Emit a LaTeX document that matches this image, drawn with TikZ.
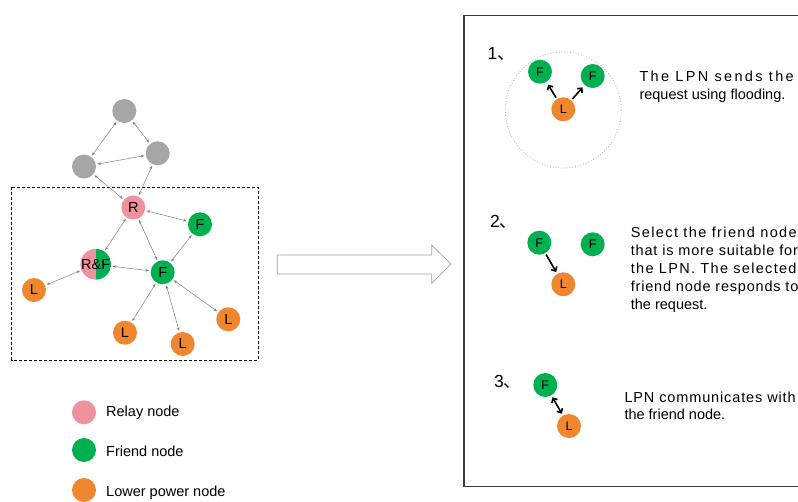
\documentclass[tikz,border=0pt]{standalone}
\usepackage{fontspec}
\setmainfont{Liberation Sans}
\newfontfamily\cjk{Noto Sans CJK SC}
\usetikzlibrary{arrows.meta}

\definecolor{relaypink}{HTML}{F0919E}
\definecolor{friendgreen}{HTML}{00B050}
\definecolor{lpnorange}{HTML}{F0862E}
\definecolor{idlegray}{HTML}{A6A6A6}
\definecolor{linkgray}{HTML}{808080}
\definecolor{hollowarrow}{HTML}{9C9CB4}
\definecolor{panelframe}{HTML}{3A3A3A}

\begin{document}
\begin{tikzpicture}[x=1pt,y=-1pt,
  dot/.style={circle,inner sep=0pt,minimum size=24pt,text=black,font=\fontsize{14.5}{14.5}\selectfont},
  relay/.style={dot,fill=relaypink},
  friend/.style={dot,fill=friendgreen},
  lpn/.style={dot,fill=lpnorange},
  idle/.style={dot,fill=idlegray},
  smalldot/.style={font=\fontsize{12.5}{12.5}\selectfont},
  link/.style={draw=linkgray,line width=0.5pt,
    {Stealth[length=3.5pt,width=2.8pt]}-{Stealth[length=3.5pt,width=2.8pt]},
    shorten <=1.5pt,shorten >=1.5pt},
  msg/.style={draw=black,line width=1.6pt,-{Straight Barb[length=3.4pt,width=6.5pt]}},
  msgboth/.style={draw=black,line width=1.6pt,{Straight Barb[length=3.4pt,width=6.5pt]}-{Straight Barb[length=3.4pt,width=6.5pt]}},
  txt/.style={anchor=base west,inner sep=0pt,font=\fontsize{14.5}{18}\selectfont},
  stepno/.style={anchor=base west,inner sep=0pt,font=\fontsize{17.5}{17.5}\selectfont},
]
\useasboundingbox (0,0) rectangle (798,501);
\clip (0,0) rectangle (798,501);

% ---------- network overview ----------
\draw[line width=1pt,dash pattern=on 3pt off 2pt] (11.7,187.3) rectangle (258.3,360);

\node[idle] (g1) at (124.3,111) {};
\node[idle] (g2) at (84,166.5) {};
\node[idle] (g3) at (157.7,153.3) {};

\node[relay] (R) at (133.3,207.5) {R};
\node[friend] (F1) at (200,224.3) {F};
\node[dot,minimum size=23pt,
  path picture={
    \fill[relaypink] (path picture bounding box.south west) rectangle (path picture bounding box.north);
    \fill[friendgreen] (path picture bounding box.south) rectangle (path picture bounding box.north east);
  }] (RF) at (95.7,264.3) {R\&F};
\node[friend] (F2) at (162.7,272.3) {F};
\node[lpn] (L1) at (34,290) {L};
\node[lpn] (L2) at (125,332.7) {L};
\node[lpn] (L3) at (182.7,344) {L};
\node[lpn] (L4) at (228.3,319.3) {L};

\draw[link] (g1) -- (g2);
\draw[link] (g1) -- (g3);
\draw[link] (g2) -- (g3);
\draw[link] (g2) -- (R);
\draw[link] (g3) -- (R);
\draw[link] (R) -- (F1);
\draw[link] (R) -- (RF);
\draw[link] (R) -- (F2);
\draw[link] (F1) -- (F2);
\draw[link] (RF) -- (F2);
\draw[link] (RF) -- (L1);
\draw[link] (F2) -- (L2);
\draw[link] (F2) -- (L3);
\draw[link] (F2) -- (L4);

% ---------- legend ----------
\node[relay] (kR) at (84,412.3) {};
\node[friend] (kF) at (84,450) {};
\node[lpn] (kL) at (84,490) {};
\node[txt] (kRt) at (106,416.7) {Relay node};
\node[txt] (kFt) at (106,456.3) {Friend node};
\node[txt] (kLt) at (106,496.3) {Lower power node};

% ---------- hollow arrow ----------
\draw[hollowarrow,line width=0.7pt,fill=white]
  (277.3,255) -- (431.7,255) -- (431.7,245) -- (451,264.2)
  -- (431.7,283.3) -- (431.7,274) -- (277.3,274) -- cycle;

% ---------- procedure panel ----------
\draw[panelframe,line width=1.3pt] (464,15.7) rectangle (830,486.7);

% step 1
\node[stepno] (n1) at (487.3,59.3) {1\cjk 、};
\draw[gray!60,dotted,line width=0.8pt] (563.3,110) circle (58);
\node[friend,smalldot] (s1a) at (540,71.7) {F};
\node[friend,smalldot] (s1b) at (592.7,76) {F};
\node[lpn,smalldot] (s1l) at (563.3,109.3) {L};
\draw[msg,shorten <=1.5pt,shorten >=3pt] (s1l) -- (s1a);
\draw[msg,shorten <=1.5pt,shorten >=3pt] (s1l) -- (s1b);
\node[txt] (t1a) at (639.3,81) {\addfontfeature{LetterSpace=16}The LPN sends the};
\node[txt] (t1b) at (639.3,99) {request using flooding.};

% step 2
\node[stepno] (n2) at (490,227.7) {2\cjk 、};
\node[friend,smalldot] (s2a) at (539.3,242.7) {F};
\node[friend,smalldot] (s2b) at (592.7,244.3) {F};
\node[lpn,smalldot] (s2l) at (563.3,284.3) {L};
\draw[msg,shorten <=1.5pt,shorten >=2pt] (s2a) -- (s2l);
\node[txt] (t2a) at (630.7,237.3) {\addfontfeature{LetterSpace=9.5}Select the friend node};
\node[txt] (t2b) at (630.7,255.5) {\addfontfeature{LetterSpace=5.6}that is more suitable for};
\node[txt] (t2c) at (630.7,273.7) {\addfontfeature{LetterSpace=9}the LPN. The selected};
\node[txt] (t2d) at (630.7,291.8) {\addfontfeature{LetterSpace=5.5}friend node responds to};
\node[txt] (t2e) at (630.7,309.5) {the request.};

% step 3
\node[stepno] (n3) at (494,387.3) {3\cjk 、};
\node[friend,smalldot] (s3f) at (545.3,385) {F};
\node[lpn,smalldot] (s3l) at (569,426) {L};
\draw[msgboth,shorten <=2pt,shorten >=2pt] (s3f) -- (s3l);
\node[txt] (t3a) at (624.3,402) {\addfontfeature{LetterSpace=6}LPN communicates with};
\node[txt] (t3b) at (624.3,419.5) {the friend node.};
\end{tikzpicture}
\end{document}
